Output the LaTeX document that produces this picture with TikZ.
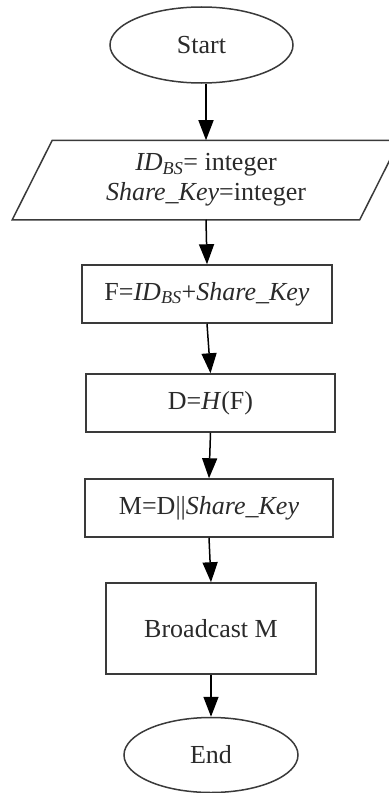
\documentclass[tikz,border=0pt]{standalone}
\usepackage{fontspec}
\setmainfont{Liberation Serif}
\usetikzlibrary{shapes.geometric,arrows.meta}
\definecolor{linegray}{HTML}{3A3A3A}
\definecolor{textgray}{HTML}{2A2A2A}
\tikzset{
  base/.style={line width=1.5bp, draw=linegray, text=textgray, inner sep=0pt,
    font=\fontsize{26bp}{30bp}\selectfont, align=center},
  term/.style={base, ellipse},
  procbox/.style={base, rectangle},
  iobox/.style={base, draw=none, rectangle},
  arr/.style={line width=1.5bp, draw=black, -{Triangle[length=20bp,width=15bp]}},
}
\begin{document}
\begin{tikzpicture}[x=1bp,y=-1bp]
\useasboundingbox (0,0) rectangle (388,793);
\node[term, minimum width=183bp, minimum height=76bp] (start) at (201.5,45) {Start};
\node[iobox, minimum width=346bp, minimum height=78bp] (para) at (206,180)
  {\textit{ID}\textsubscript{\textit{BS}}= integer\\\textit{Share\_Key}=integer};
\draw[line width=1.5bp, draw=linegray]
  ([xshift=20bp]para.north west) -- ([xshift=20bp]para.north east)
  -- ([xshift=-20bp]para.south east) -- ([xshift=-20bp]para.south west) -- cycle;
\node[procbox, minimum width=250bp, minimum height=58bp] (f) at (207,294)
  {F=\textit{ID}\textsubscript{\textit{BS}}+\textit{Share\_Key}};
\node[procbox, minimum width=249bp, minimum height=58bp] (d) at (210.5,403)
  {D=\textit{H}(F)};
\node[procbox, minimum width=248bp, minimum height=58bp] (m) at (209,508)
  {M=D\textbar\textbar\textit{Share\_Key}};
\node[procbox, minimum width=210bp, minimum height=91bp] (b) at (211,628.5)
  {Broadcast M};
\node[term, minimum width=174bp, minimum height=75bp] (e) at (211,755) {End};
\draw[arr] (para.north |- start.south) -- (para.north);
\draw[arr] (para.south) -- (f.north);
\draw[arr] (f.south) -- (d.north);
\draw[arr] (d.south) -- (m.north);
\draw[arr] (m.south) -- (b.north);
\draw[arr] (b.south) -- (e.north);
\end{tikzpicture}
\end{document}
